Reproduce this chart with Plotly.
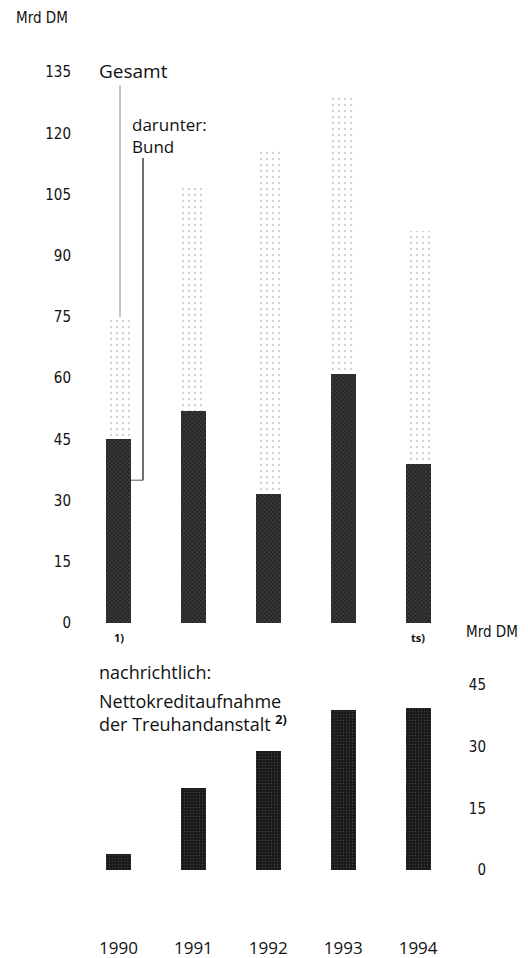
import plotly.graph_objects as go

# ---- data ----
years = [1990, 1991, 1992, 1993, 1994]
gesamt = [75, 107, 116, 129, 96]          # Nettokreditaufnahme gesamt (Mrd DM)
bund = [45, 52, 31.5, 61, 39]            # darunter: Bund (Mrd DM)
treuhand = [4, 20, 29, 39, 39.5]          # Treuhandanstalt (Mrd DM)
top_ticks = [0, 15, 30, 45, 60, 75, 90, 105, 120, 135]
bot_ticks = [0, 15, 30, 45]
year_labels = ["1990", "1991", "1992", "1993", "1994"]
bar_notes = ["1)", "", "", "", "ts)"]

# page has an 8px body margin; work in page pixels
OFF = 8
W, H = 528 - OFF, 958 - OFF
def px(x):
    return (x - OFF) / W
def py(y):
    return 1 - (y - OFF) / H

# pixel geometry (page coordinates)
X_LEFT, X_RIGHT = 78, 460
CX0, DX = 118.5, 74.9
xr = [1990 + (X_LEFT - CX0) / DX, 1990 + (X_RIGHT - CX0) / DX]
BW = 25 / DX

T_TOP, T_BOT, T_ZERO, T_K = 60, 640, 623, 4.08
top_range = [(T_ZERO - T_BOT) / T_K, (T_ZERO - T_TOP) / T_K]
B_TOP, B_BOT, B_ZERO, B_K = 650, 936, 870, 4.11
bot_range = [(B_ZERO - B_BOT) / B_K, (B_ZERO - B_TOP) / B_K]

num_font = "Liberation Sans Narrow, DejaVu Sans Condensed, sans-serif"
txt_font = "Open Sans, Noto Sans, sans-serif"

fig = go.Figure()

fig.add_trace(go.Bar(
    x=years, y=gesamt, width=BW, xaxis="x", yaxis="y",
    marker=dict(color="white", line=dict(width=0),
                pattern=dict(shape=".", fgcolor="#a8a8a8", bgcolor="white",
                             size=6, solidity=0.12)),
    showlegend=False, hoverinfo="skip"))
fig.add_trace(go.Bar(
    x=years, y=bund, width=BW, xaxis="x", yaxis="y",
    marker=dict(color="#2a2a2a", line=dict(width=0),
                pattern=dict(shape="x", fgcolor="#8a8a8a", bgcolor="#262626",
                             size=3, solidity=0.25)),
    showlegend=False, hoverinfo="skip"))
fig.add_trace(go.Bar(
    x=years, y=treuhand, width=BW, xaxis="x2", yaxis="y2",
    marker=dict(color="#1c1c1c", line=dict(width=0),
                pattern=dict(shape=".", fgcolor="#6a6a6a", bgcolor="#1a1a1a",
                             size=3, solidity=0.15)),
    showlegend=False, hoverinfo="skip"))

fig.update_layout(
    width=W, height=H, margin=dict(l=0, r=0, t=0, b=0),
    paper_bgcolor="white", plot_bgcolor="white",
    barmode="overlay", bargap=0,
    xaxis=dict(domain=[px(X_LEFT), px(X_RIGHT)], range=xr, anchor="y",
               showticklabels=False, showgrid=False, zeroline=False, showline=False),
    yaxis=dict(domain=[py(T_BOT), py(T_TOP)], range=top_range, anchor="x",
               tickvals=top_ticks, ticktext=[str(t) for t in top_ticks],
               ticks="", ticklabelstandoff=6, showgrid=False, zeroline=False,
               showline=False, tickfont=dict(family=num_font, size=15, color="#111")),
    xaxis2=dict(domain=[px(X_LEFT), px(X_RIGHT)], range=xr, anchor="y2",
                tickvals=years, ticktext=year_labels, ticks="",
                showgrid=False, zeroline=False, showline=False,
                tickfont=dict(family=txt_font, size=17, color="#111")),
    yaxis2=dict(domain=[py(B_BOT), py(B_TOP)], range=bot_range, anchor="free",
                position=px(490), side="left",
                tickvals=bot_ticks, ticktext=[str(t) for t in bot_ticks],
                ticks="", ticklabelstandoff=4, showgrid=False, zeroline=False,
                showline=False, tickfont=dict(family=num_font, size=15, color="#111")),
)

# leader lines (data coordinates)
g_top = (T_ZERO - 85) / T_K
b_top = (T_ZERO - 158) / T_K
bund_x = 1990 + (143 - CX0) / DX
fig.add_shape(type="line", xref="x", yref="y", x0=1990.02, x1=1990.02,
              y0=gesamt[0], y1=g_top, line=dict(color="#888", width=1))
fig.add_shape(type="line", xref="x", yref="y", x0=bund_x, x1=bund_x,
              y0=35, y1=b_top, line=dict(color="#222", width=1.3))
fig.add_shape(type="line", xref="x", yref="y", x0=1990 + BW / 2, x1=bund_x,
              y0=35, y1=35, line=dict(color="#555", width=1))

ann = []
def text(x, y, s, size, family=txt_font, anchor="left"):
    ann.append(dict(x=px(x), y=py(y), xref="paper", yref="paper",
                    text=s, showarrow=False, align="left",
                    xanchor=anchor, yanchor="middle",
                    font=dict(family=family, size=size, color="#111")))

text(14, 18, "Mrd DM", 15, family=num_font)
text(97, 71, "Gesamt", 19)
text(130, 135, "darunter:<br>Bund", 17)
text(464, 632, "Mrd DM", 15, family=num_font)
text(97, 672, "nachrichtlich:", 18)
text(97, 712, "Nettokreditaufnahme<br>der Treuhandanstalt <sup><b>2)</b></sup>", 18)
for yr, note in zip(years, bar_notes):
    if note:
        ann.append(dict(x=yr, y=py(637), xref="x", yref="paper", text="<b>%s</b>" % note,
                        showarrow=False, xanchor="center", yanchor="middle",
                        font=dict(family=txt_font, size=11, color="#111")))
fig.update_layout(annotations=ann)

fig.write_html("out.html")
